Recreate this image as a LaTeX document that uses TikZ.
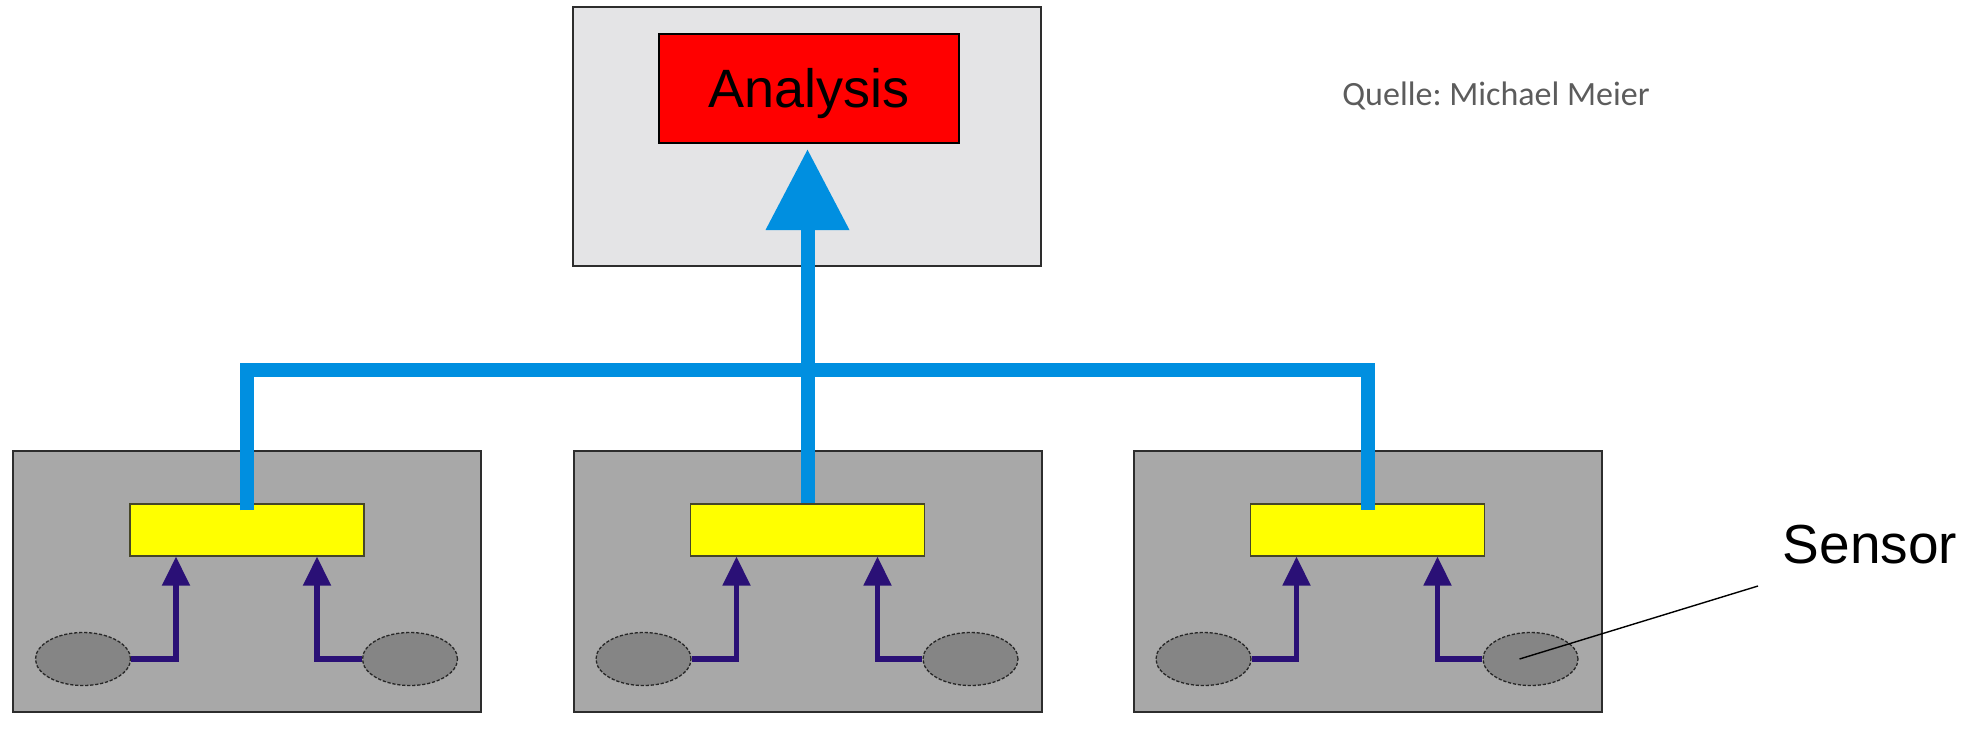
\documentclass[tikz,border=0pt]{standalone}
\usepackage{fontspec}
\setmainfont{Liberation Sans}
\newfontfamily\carlito{Carlito}
\usetikzlibrary{arrows.meta,shapes.geometric}
\definecolor{topgray}{RGB}{228,228,230}
\definecolor{boxgray}{RGB}{168,168,168}
\definecolor{sensgray}{RGB}{133,133,133}
\definecolor{busblue}{RGB}{0,143,224}
\definecolor{indigoc}{RGB}{42,16,118}
\definecolor{framec}{RGB}{45,45,45}
\definecolor{yelframe}{RGB}{70,70,40}
\definecolor{quellegray}{RGB}{92,92,92}
\definecolor{redfill}{RGB}{255,0,0}
\definecolor{yelfill}{RGB}{255,255,0}
\frenchspacing
\begin{document}
\begin{tikzpicture}[x=0.5pt,y=-0.5pt,
  topbox/.style={draw=framec, line width=1pt, fill=topgray, minimum width=234pt, minimum height=129.5pt, inner sep=0pt},
  redbox/.style={draw=black, line width=1pt, fill=redfill, minimum width=150pt, minimum height=54.5pt, inner sep=0pt,
    font=\fontsize{27}{27}\selectfont, text height=19.3pt, text depth=0pt},
  unitbox/.style={draw=framec, line width=1pt, fill=boxgray, minimum width=234pt, minimum height=130.5pt, inner sep=0pt},
  agent/.style={draw=yelframe, line width=0.6pt, fill=yelfill, minimum width=117pt, minimum height=26pt, inner sep=0pt},
  sensor/.style={ellipse, draw=black!85, dash pattern=on 1.6pt off 0.9pt, line width=0.65pt, fill=sensgray, minimum width=47.5pt, minimum height=26.5pt, inner sep=0pt},
  bus/.style={draw=busblue, line width=7pt},
  sarrow/.style={draw=indigoc, line width=2.6pt, -{Triangle[width=13.5pt,length=14.5pt]}},
  leader/.style={draw=black, line width=0.7pt},
]
\useasboundingbox (0,0) rectangle (1970,730);

% top analysis station
\node[topbox] (top) at (807,136.5) {};
\node[redbox] (red) at (809,88.5) {Analysis};

% units
\foreach \i/\x in {1/247, 2/807.5, 3/1367.5} {
  \node[unitbox] (u\i) at (\x,581.5) {};
  \node[agent] (y\i) at (\x,530) {};
  \node[sensor] (e\i a) at (\x-164,659) {};
  \node[sensor] (e\i b) at (\x+163,659) {};
}

% sensor arrows
\foreach \i in {1,2,3} {
  \draw[sarrow] (e\i a.east) -| ([xshift=-35.5pt]y\i.south);
  \draw[sarrow] (e\i b.west) -| ([xshift=35pt]y\i.south);
}

% bus
\coordinate (busy) at (0,370);
\draw[bus] ([yshift=-3.5pt]y1.north) -- (y1.north |- busy) -- (y3.north |- busy) -- ([yshift=-3.5pt]y3.north);
\draw[bus, -{Triangle[width=40pt,length=40.5pt]}] (y2.north) -- ([yshift=-2.5pt]red.south -| y2.north);

% labels
\node[inner sep=0pt, font=\carlito\fontsize{17}{17}\selectfont, text=quellegray] (quelle) at (1496,96) {Quelle: Michael Meier};
\node[inner sep=0pt, font=\fontsize{27.5}{27.5}\selectfont] (sensorlbl) at (1870,545) {Sensor};
\coordinate (lead) at (1758,586);
\draw[leader] (lead) -- ([xshift=-5.5pt]e3b.center);
\end{tikzpicture}
\end{document}
